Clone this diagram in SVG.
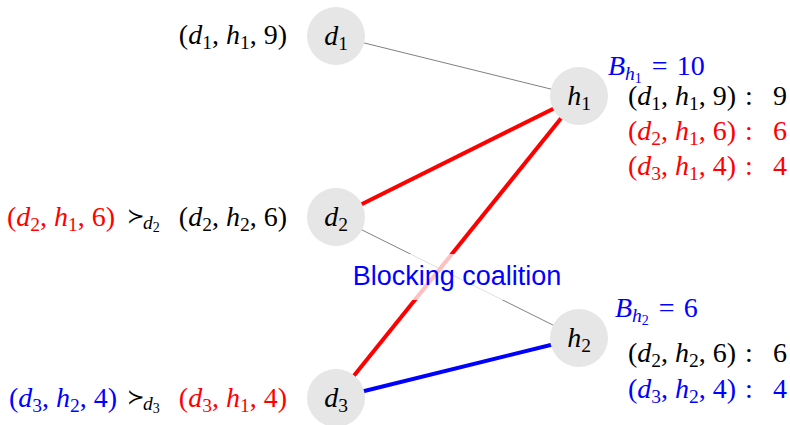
<svg xmlns="http://www.w3.org/2000/svg" width="790" height="425" viewBox="0 0 790 425">
<style>
.m{font-family:"Liberation Serif","Times New Roman",serif;font-size:28px;fill:#000}
.i{font-style:italic}
.s{font-size:19.5px}
.ss{font-size:14px;font-style:normal}
.r{fill:#ff0000}
.b{fill:#0000ff}
.sym{font-family:"DejaVu Serif",serif;font-size:21px;fill:#000}
.node{fill:#e6e6e6}
.thin{stroke:#808080;stroke-width:1;fill:none}
.red{stroke:#ff0000;stroke-width:4;fill:none}
.blue{stroke:#0000ff;stroke-width:4;fill:none}
.sans{font-family:"Liberation Sans",Arial,sans-serif;font-size:27px;fill:#0000ff}
</style>
<g id="connectors">
<line class="thin" x1="336" y1="36" x2="579" y2="96"/>
<line class="thin" x1="336" y1="217" x2="579" y2="338"/>
<line class="red" x1="336" y1="217" x2="579" y2="96"/>
<line class="red" x1="336" y1="398" x2="579" y2="96"/>
<line class="blue" x1="336" y1="398" x2="579" y2="338"/>
</g>
<g id="label-blocking">
<rect x="350" y="254" width="216" height="46" fill="#fff" fill-opacity="0.75"/>
<text class="sans" x="457" y="285" text-anchor="middle">Blocking coalition</text>
</g>
<g id="d1">
<circle class="node" cx="336" cy="36" r="29"/>
<text class="m" x="336" y="45" text-anchor="middle"><tspan class="i">d</tspan><tspan class="s" dy="5">1</tspan></text>
</g>
<g id="d2">
<circle class="node" cx="336" cy="217" r="29"/>
<text class="m" x="336" y="226" text-anchor="middle"><tspan class="i">d</tspan><tspan class="s" dy="5">2</tspan></text>
</g>
<g id="d3">
<circle class="node" cx="336" cy="398" r="29"/>
<text class="m" x="336" y="407" text-anchor="middle"><tspan class="i">d</tspan><tspan class="s" dy="5">3</tspan></text>
</g>
<g id="h1">
<circle class="node" cx="579" cy="96" r="29"/>
<text class="m" x="579" y="105" text-anchor="middle"><tspan class="i">h</tspan><tspan class="s" dy="5">1</tspan></text>
</g>
<g id="h2">
<circle class="node" cx="579" cy="338" r="29"/>
<text class="m" x="579" y="347" text-anchor="middle"><tspan class="i">h</tspan><tspan class="s" dy="5">2</tspan></text>
</g>
<g id="left-labels">
<text class="m" x="287" y="44" text-anchor="end">(<tspan class="i">d</tspan><tspan class="s" dy="5">1</tspan><tspan dy="-5">, </tspan><tspan class="i">h</tspan><tspan class="s" dy="5">1</tspan><tspan dy="-5">, 9)</tspan></text>
<text class="m r" x="7" y="226">(<tspan class="i">d</tspan><tspan class="s" dy="5">2</tspan><tspan dy="-5">, </tspan><tspan class="i">h</tspan><tspan class="s" dy="5">1</tspan><tspan dy="-5">, 6)</tspan></text>
<text class="sym" x="127" y="223">≻</text>
<text class="m i s" x="143" y="229">d<tspan class="ss" dy="3">2</tspan></text>
<text class="m" x="287" y="226" text-anchor="end">(<tspan class="i">d</tspan><tspan class="s" dy="5">2</tspan><tspan dy="-5">, </tspan><tspan class="i">h</tspan><tspan class="s" dy="5">2</tspan><tspan dy="-5">, 6)</tspan></text>
<text class="m b" x="9" y="407">(<tspan class="i">d</tspan><tspan class="s" dy="5">3</tspan><tspan dy="-5">, </tspan><tspan class="i">h</tspan><tspan class="s" dy="5">2</tspan><tspan dy="-5">, 4)</tspan></text>
<text class="sym" x="127" y="404">≻</text>
<text class="m i s" x="143" y="410">d<tspan class="ss" dy="3">3</tspan></text>
<text class="m r" x="287" y="407" text-anchor="end">(<tspan class="i">d</tspan><tspan class="s" dy="5">3</tspan><tspan dy="-5">, </tspan><tspan class="i">h</tspan><tspan class="s" dy="5">1</tspan><tspan dy="-5">, 4)</tspan></text>
</g>
<g id="right-labels">
<text class="m b" x="608" y="75"><tspan class="i">B</tspan><tspan class="s i" dy="5">h</tspan><tspan class="ss" dy="3">1</tspan><tspan dy="-8" dx="10">=</tspan><tspan dx="9">10</tspan></text>
<text class="m" x="628" y="105">(<tspan class="i">d</tspan><tspan class="s" dy="5">1</tspan><tspan dy="-5">, </tspan><tspan class="i">h</tspan><tspan class="s" dy="5">1</tspan><tspan dy="-5">, 9)</tspan></text>
<text class="m" x="745" y="105">:</text>
<text class="m" x="773" y="105">9</text>
<text class="m r" x="628" y="140">(<tspan class="i">d</tspan><tspan class="s" dy="5">2</tspan><tspan dy="-5">, </tspan><tspan class="i">h</tspan><tspan class="s" dy="5">1</tspan><tspan dy="-5">, 6)</tspan></text>
<text class="m r" x="745" y="140">:</text>
<text class="m r" x="773" y="140">6</text>
<text class="m r" x="628" y="175">(<tspan class="i">d</tspan><tspan class="s" dy="5">3</tspan><tspan dy="-5">, </tspan><tspan class="i">h</tspan><tspan class="s" dy="5">1</tspan><tspan dy="-5">, 4)</tspan></text>
<text class="m r" x="745" y="175">:</text>
<text class="m r" x="773" y="175">4</text>
<text class="m b" x="615" y="317"><tspan class="i">B</tspan><tspan class="s i" dy="5">h</tspan><tspan class="ss" dy="3">2</tspan><tspan dy="-8" dx="10">=</tspan><tspan dx="9">6</tspan></text>
<text class="m" x="628" y="362">(<tspan class="i">d</tspan><tspan class="s" dy="5">2</tspan><tspan dy="-5">, </tspan><tspan class="i">h</tspan><tspan class="s" dy="5">2</tspan><tspan dy="-5">, 6)</tspan></text>
<text class="m" x="745" y="362">:</text>
<text class="m" x="773" y="362">6</text>
<text class="m b" x="628" y="398">(<tspan class="i">d</tspan><tspan class="s" dy="5">3</tspan><tspan dy="-5">, </tspan><tspan class="i">h</tspan><tspan class="s" dy="5">2</tspan><tspan dy="-5">, 4)</tspan></text>
<text class="m b" x="745" y="398">:</text>
<text class="m b" x="773" y="398">4</text>
</g>
</svg>
